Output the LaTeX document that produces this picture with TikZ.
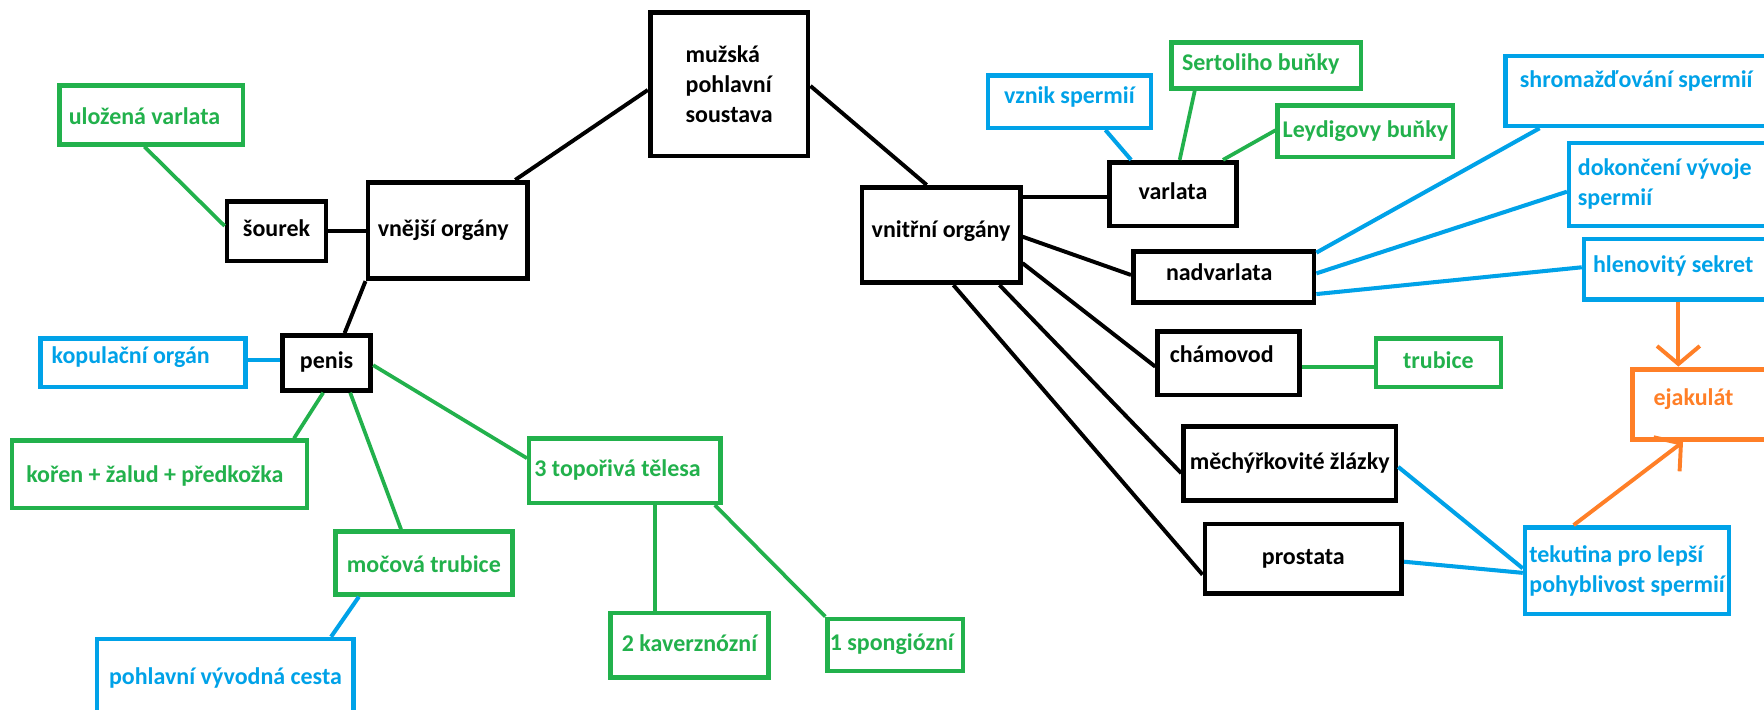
\documentclass[tikz,border=0pt]{standalone}
\usepackage{fontspec}
\setmainfont{Carlito}
\usetikzlibrary{calc,arrows.meta}
\definecolor{pgreen}{RGB}{34,177,76}
\definecolor{pblue}{RGB}{0,162,232}
\definecolor{porange}{RGB}{255,127,39}
\newcommand\txtshift[2]{\rlap{\hspace*{#1}#2}\phantom{#2}}
\tikzset{
  lbl/.style={font=\bfseries\fontsize{21.3}{26.7}\selectfont, inner sep=0pt, rectangle},
  one/.style={text height=14pt, text depth=4pt},
  blk/.style={lbl, draw=black, line width=4.2pt, text=black},
  grn/.style={lbl, draw=pgreen, line width=4pt, text=pgreen},
  blu/.style={lbl, draw=pblue, line width=4pt, text=pblue},
  org/.style={lbl, draw=porange, line width=4.4pt, text=porange},
  cblk/.style={draw=black, line width=3.5pt},
  cgrn/.style={draw=pgreen, line width=3.3pt},
  cblu/.style={draw=pblue, line width=3.6pt},
  corg/.style={draw=porange, line width=3.5pt, -{Straight Barb[length=16pt,width=38pt]}},
}
\begin{document}
\begin{tikzpicture}[x=1pt,y=-1pt]
\useasboundingbox (0,0) rectangle (1568,631);
\clip (0,0) rectangle (1568,631);
\fill[white] (0,0) rectangle (1568,631);

% black boxes
\node[blk, align=left, minimum width=140.4pt, minimum height=127.8pt] (M) at (648.1,74.8) {mužská\\pohlavní\\soustava};
\node[blk, one, minimum width=142pt, minimum height=85.8pt] (VN) at (398,204.9) {\txtshift{-4pt}{vnější orgány}};
\node[blk, one, minimum width=88pt, minimum height=53pt] (S) at (245.8,205.5) {šourek};
\node[blk, one, minimum width=78.6pt, minimum height=48.7pt] (P) at (290.3,322.6) {penis};
\node[blk, text height=14pt, text depth=9.8pt, minimum width=140.6pt, minimum height=84.9pt] (VI) at (836.5,208.9) {vnitřní orgány};
\node[blk, one, minimum width=113.4pt, minimum height=56.8pt] (VA) at (1042.6,172.6) {varlata};
\node[blk, text height=14pt, text depth=8pt, minimum width=160.6pt, minimum height=45.5pt] (NA) at (1087.7,246.4) {\txtshift{-4pt}{nadvarlata}};
\node[blk, text height=14pt, text depth=15.8pt, minimum width=126pt, minimum height=56.3pt] (CH) at (1092,322.9) {\txtshift{-6pt}{chámovod}};
\node[blk, one, minimum width=188.7pt, minimum height=66pt] (MZ) at (1146.4,412) {měchýřkovité žlázky};
\node[blk, one, minimum width=175pt, minimum height=62pt] (PR) at (1158.5,496.8) {prostata};

% green boxes
\node[grn, text height=21.6pt, text depth=4pt, minimum width=162.8pt, minimum height=52.4pt] (UL) at (134.4,102.2) {\txtshift{-6pt}{uložená varlata}};
\node[grn, text height=18.4pt, text depth=4pt, minimum width=262.4pt, minimum height=59.7pt] (KO) at (141.7,421.5) {\txtshift{-4pt}{kořen + žalud + předkožka}};
\node[grn, text height=20.4pt, text depth=4pt, minimum width=157.5pt, minimum height=55.9pt] (MO) at (376.8,500.5) {močová trubice};
\node[grn, one, minimum width=170pt, minimum height=57.3pt] (TT) at (555.4,418.3) {\txtshift{-6.5pt}{3 topořivá tělesa}};
\node[grn, one, minimum width=140.8pt, minimum height=57.4pt] (K2) at (612.9,573.7) {2 kaverznózní};
\node[grn, one, minimum width=120.2pt, minimum height=46.5pt] (S1) at (795.7,573.3) {\txtshift{-3pt}{1 spongiózní}};
\node[grn, one, minimum width=168.4pt, minimum height=41pt] (SE) at (1125.6,58.1) {\txtshift{-5pt}{Sertoliho buňky}};
\node[grn, one, minimum width=155.9pt, minimum height=45.7pt] (LE) at (1213.7,116.8) {Leydigovy buňky};
\node[grn, one, minimum width=111pt, minimum height=43.3pt] (TR) at (1278.5,322.4) {trubice};

% blue boxes
\node[blu, text height=14pt, text depth=11.8pt, minimum width=182.4pt, minimum height=43.3pt] (KP) at (127.2,322.4) {\txtshift{-11pt}{kopulační orgán}};
\node[blu, text height=14pt, text depth=14pt, minimum width=228pt, minimum height=80pt] (PV) at (200.4,608) {pohlavní vývodná cesta};
\node[blu, text height=14pt, text depth=10pt, minimum width=144.6pt, minimum height=46.4pt] (VZ) at (950.6,90.4) {vznik spermií};
\node[blu, text height=14pt, text depth=20.8pt, minimum width=250pt, minimum height=62pt] (SH) at (1463,81) {\txtshift{-8.6pt}{shromažďování spermií}};
\node[blu, minimum width=193.2pt, minimum height=74pt] (DO) at (1491.4,164) {\txtshift{-11.6pt}{\begin{tabular}{@{}l@{}}dokončení vývoje\\spermií\end{tabular}}};
\node[blu, text height=14pt, text depth=8.6pt, minimum width=180pt, minimum height=53.8pt] (HL) at (1498,239.3) {\txtshift{-10.7pt}{hlenovitý sekret}};
\node[blu, align=left, minimum width=181.5pt, minimum height=76.9pt] (TE) at (1446.3,507.2) {tekutina pro lepší\\pohyblivost spermií};

% orange box
\node[org, text height=14pt, text depth=11.4pt, minimum width=137pt, minimum height=62.5pt] (EJ) at (1519.5,359.3) {\txtshift{-14.2pt}{ejakulát}};

% black connectors
\coordinate (vaIn) at ($(VA.west)+(0,2.8)$);
\draw[cblk] ($(VN.north)+(60,0)$) -- ($(M.west)+(0,5.2)$);
\draw[cblk] ($(M.east)+(0,1.6)$) -- ($(VI.north)+(-12.8,0)$);
\draw[cblk] (S.east) -- (S.east -| VN.west);
\draw[cblk] (VN.south west) -- ($(P.north)+(16,0)$);
\draw[cblk] (vaIn -| VI.east) -- (vaIn);
\draw[cblk] ($(VI.east)+(0,1.5)$) -- ($(NA.west)+(0,-2)$);
\draw[cblk] ($(VI.east)+(0,25)$) -- ($(CH.west)+(0,3)$);
\draw[cblk] ($(VI.south)+(52,0)$) -- ($(MZ.west)+(0,8.6)$);
\draw[cblk] ($(VI.south)+(11,0)$) -- ($(PR.west)+(0,14)$);

% green connectors
\draw[cgrn] ($(UL.south)+(-6,0)$) -- ($(S.west)+(0,-4.6)$);
\draw[cgrn] ($(P.south)+(-3,0)$) -- ($(KO.north)+(119.6,0)$);
\draw[cgrn] ($(P.south)+(21,0)$) -- ($(MO.north)+(-20.3,0)$);
\draw[cgrn] ($(P.east)+(0,2)$) -- ($(TT.west)+(0,-11)$);
\draw[cgrn] ($(TT.south)+(26.8,0)$) -- ($(K2.north)+(-30.7,0)$);
\draw[cgrn] ($(TT.south east)+(-7,0)$) -- (S1.north west);
\draw[cgrn] ($(VA.north)+(6,0)$) -- ($(SE.south)+(-63.6,0)$);
\draw[cgrn] ($(VA.north)+(44.5,0)$) -- ($(LE.west)+(0,-1)$);
\draw[cgrn] ($(CH.east)+(0,3.6)$) -- ($(TR.west)+(0,4.1)$);

% blue connectors
\draw[cblu] ($(KP.east)+(0,-2.4)$) -- ($(P.west)+(0,-2.6)$);
\draw[cblu] ($(MO.south)+(-57.8,0)$) -- ($(PV.north)+(93.9,0)$);
\draw[cblu] ($(VZ.south)+(32,0)$) -- ($(VA.north)+(-37.2,0)$);
\draw[cblu] ($(NA.north east)+(0,3)$) -- ($(SH.south west)+(32.5,0)$);
\draw[cblu] ($(NA.east)+(0,-3.4)$) -- ($(DO.west)+(0,6.4)$);
\draw[cblu] ($(NA.east)+(0,15)$) -- ($(HL.west)+(0,-1.7)$);
\draw[cblu] ($(MZ.east)+(0,3)$) -- ($(TE.west)+(0,-2)$);
\draw[cblu] ($(PR.east)+(0,2.5)$) -- ($(TE.west)+(0,2)$);

% orange arrows
\draw[corg] ($(HL.south)+(-6.1,0)$) -- ($(EJ.north)+(-27.6,0)$);
\draw[corg] ($(TE.north)+(-47.5,0)$) -- ($(EJ.south)+(-23.5,0)$);
\end{tikzpicture}
\end{document}
